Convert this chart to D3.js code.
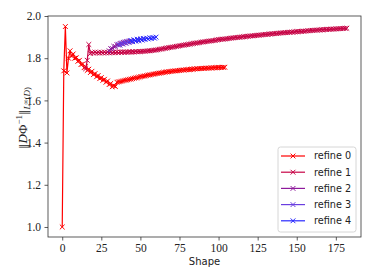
<!DOCTYPE html>
<html>
<head>
<meta charset="utf-8">
<script src="https://cdn.jsdelivr.net/npm/d3@7"></script>
<style>
  body { margin: 0; background: #fff; }
  svg { display: block; }
  .tick text { font-family: "Liberation Serif", "DejaVu Serif", serif; font-size: 11.5px; fill: #222; }
</style>
</head>
<body>
<div id="chart"></div>
<script>
// series names and colours
var names = ['refine 0', 'refine 1', 'refine 2', 'refine 3', 'refine 4'];
var colors = ['#ff0000', '#c70446', '#8e1a9c', '#6a3ee0', '#2a2aff'];

// first shape index of each series (x runs one step per value)
var starts = [0, 15, 30, 36, 44];

var refine0 = [1.000, 1.740, 1.950, 1.730, 1.800, 1.835, 1.810, 1.820, 1.800, 1.802, 1.785, 1.790, 1.770, 1.772, 1.755, 1.760, 1.742, 1.748, 1.732, 1.738, 1.722, 1.727, 1.712, 1.718, 1.703, 1.708, 1.695, 1.700, 1.686, 1.692, 1.675, 1.680, 1.665, 1.670, 1.666,
  1.686, 1.688, 1.689, 1.691, 1.693, 1.695, 1.696, 1.698, 1.700, 1.701, 1.703,
  1.705, 1.707, 1.708, 1.710, 1.712, 1.713, 1.715, 1.716, 1.718, 1.720,
  1.721, 1.722, 1.724, 1.725, 1.727, 1.728, 1.729, 1.730, 1.732, 1.733,
  1.734, 1.735, 1.736, 1.737, 1.738, 1.739, 1.740, 1.740, 1.741, 1.742,
  1.743, 1.744, 1.744, 1.745, 1.746, 1.746, 1.747, 1.748, 1.748, 1.749,
  1.750, 1.750, 1.751, 1.751, 1.752, 1.752, 1.753, 1.753, 1.753, 1.754,
  1.754, 1.755, 1.755, 1.755, 1.756, 1.756, 1.756, 1.757, 1.757];

var refine1 = [1.750, 1.790, 1.865, 1.822,
  1.828, 1.824, 1.829, 1.825, 1.828, 1.824, 1.828, 1.825, 1.829, 1.825, 1.828, 1.825, 1.829, 1.826, 1.829, 1.826,
  1.829, 1.826, 1.830, 1.827, 1.830, 1.827, 1.830, 1.828, 1.831, 1.828, 1.831, 1.829, 1.832, 1.830, 1.832, 1.831,
  1.832, 1.833, 1.833, 1.834, 1.835, 1.835, 1.836, 1.837, 1.838, 1.839,
  1.840, 1.842, 1.843, 1.844, 1.846, 1.847, 1.848, 1.850, 1.851, 1.852,
  1.853, 1.855, 1.856, 1.857, 1.859, 1.860, 1.861, 1.862, 1.864, 1.865,
  1.866, 1.867, 1.869, 1.870, 1.871, 1.872, 1.873, 1.874, 1.876, 1.877,
  1.878, 1.879, 1.880, 1.881, 1.882, 1.883, 1.884, 1.885, 1.887, 1.888,
  1.889, 1.890, 1.890, 1.891, 1.892, 1.893, 1.894, 1.895, 1.896, 1.897,
  1.898, 1.898, 1.899, 1.900, 1.901, 1.902, 1.902, 1.903, 1.904, 1.905,
  1.906, 1.906, 1.907, 1.908, 1.909, 1.909, 1.910, 1.911, 1.912, 1.913,
  1.913, 1.914, 1.915, 1.915, 1.916, 1.917, 1.917, 1.918, 1.919, 1.920,
  1.920, 1.921, 1.921, 1.922, 1.923, 1.923, 1.924, 1.924, 1.925, 1.926,
  1.926, 1.927, 1.927, 1.928, 1.928, 1.929, 1.930, 1.930, 1.931, 1.932,
  1.932, 1.933, 1.933, 1.934, 1.934, 1.935, 1.935, 1.936, 1.936, 1.937,
  1.937, 1.938, 1.938, 1.938, 1.939, 1.939, 1.940, 1.940, 1.941, 1.941, 1.942, 1.942];

var refine2 = [1.835, 1.845, 1.846, 1.856, 1.855, 1.864, 1.862, 1.870, 1.868, 1.875, 1.872, 1.879, 1.876, 1.882, 1.879];
var refine3 = [1.866, 1.862, 1.872, 1.867, 1.877, 1.871, 1.880, 1.875, 1.883, 1.878, 1.886, 1.881, 1.888, 1.884, 1.890, 1.886, 1.892];
var refine4 = [1.884, 1.879, 1.887, 1.882, 1.889, 1.885, 1.891, 1.887, 1.893, 1.889, 1.895, 1.891, 1.897, 1.893, 1.898, 1.895, 1.900];

var xTicks = [0, 25, 50, 75, 100, 125, 150, 175];
var yTicks = [1.0, 1.2, 1.4, 1.6, 1.8, 2.0];

var W = 374, H = 280;
var m = { left: 48, top: 16, right: 13, bottom: 43 };
var iw = W - m.left - m.right, ih = H - m.top - m.bottom;

var svg = d3.select('#chart').append('svg').attr('width', W).attr('height', H);

var x = d3.scaleLinear().domain([-9.1, 191.1]).range([m.left, m.left + iw]);
var y = d3.scaleLinear().domain([0.9525, 2.0]).range([m.top + ih, m.top]);

// build point lists
var all = [refine0, refine1, refine2, refine3, refine4];
var series = all.map(function (vals, i) {
  return { name: names[i], color: colors[i], pts: vals.map(function (v, j) { return [starts[i] + j, v]; }) };
});

// axes
var gx = svg.append('g').attr('transform', 'translate(0,' + (m.top + ih) + ')')
  .call(d3.axisBottom(x).tickValues(xTicks).tickSize(3.5).tickPadding(3.5).tickFormat(d3.format('d')));
var gy = svg.append('g').attr('transform', 'translate(' + m.left + ',0)')
  .call(d3.axisLeft(y).tickValues(yTicks).tickSize(3.5).tickPadding(3.5).tickFormat(d3.format('.1f')));
[gx, gy].forEach(function (g) {
  g.select('.domain').remove();
  g.selectAll('.tick line').attr('stroke', '#333').attr('stroke-width', 0.8);
});

var line = d3.line().x(function (d) { return x(d[0]); }).y(function (d) { return y(d[1]); });
var cross = function (s) { return 'M' + (-s) + ',' + (-s) + 'L' + s + ',' + s + 'M' + (-s) + ',' + s + 'L' + s + ',' + (-s); };

var plot = svg.append('g');
series.forEach(function (s) {
  var g = plot.append('g');
  g.append('path').attr('d', line(s.pts)).attr('fill', 'none')
    .attr('stroke', s.color).attr('stroke-width', 1.2);
  g.selectAll('path.mk').data(s.pts).enter().append('path').attr('class', 'mk')
    .attr('d', cross(2.4))
    .attr('transform', function (d) { return 'translate(' + x(d[0]) + ',' + y(d[1]) + ')'; })
    .attr('stroke', s.color).attr('stroke-width', 1);
});

// frame
svg.append('rect').attr('x', m.left).attr('y', m.top).attr('width', iw).attr('height', ih)
  .attr('fill', 'none').attr('stroke', '#333').attr('stroke-width', 0.8);

// axis titles
svg.append('text').attr('x', m.left + iw / 2).attr('y', 265)
  .attr('text-anchor', 'middle').style('font-family', 'DejaVu Sans').style('font-size', '10px').attr('fill', '#222')
  .text('Shape');

var yl = svg.append('text').attr('transform', 'translate(27,118) rotate(-90)')
  .attr('text-anchor', 'middle').style('font-family', 'Liberation Serif, DejaVu Serif, serif').style('font-size', '13px').attr('fill', '#222');
yl.append('tspan').style('font-family', 'DejaVu Serif').style('font-size', '11px').text('\u2016');
yl.append('tspan').style('font-style', 'italic').text('D');
yl.append('tspan').text('\u03A6');
yl.append('tspan').attr('dy', -5).style('font-size', '9px').text('\u22121');
yl.append('tspan').attr('dy', 5).style('font-family', 'DejaVu Serif').style('font-size', '11px').text('\u2016');
yl.append('tspan').attr('dy', 3).style('font-size', '9px').style('font-style', 'italic').text('L');
yl.append('tspan').attr('dy', -2).style('font-size', '7px').text('\u221E');
yl.append('tspan').attr('dy', 2).style('font-size', '9px').text('(');
yl.append('tspan').style('font-size', '9px').style('font-style', 'italic').text('D');
yl.append('tspan').style('font-size', '9px').text(')');

// legend
var lg = svg.append('g').attr('transform', 'translate(278,147)');
lg.append('rect').attr('width', 78).attr('height', 85).attr('rx', 2.5)
  .attr('fill', '#fff').attr('fill-opacity', 0.8).attr('stroke', '#ccc').attr('stroke-width', 0.8);
series.forEach(function (s, i) {
  var row = lg.append('g').attr('transform', 'translate(0,' + (9 + i * 16.2) + ')');
  row.append('line').attr('x1', 3).attr('x2', 27).attr('stroke', s.color).attr('stroke-width', 1.2);
  row.append('path').attr('d', cross(2.4)).attr('transform', 'translate(15,0)').attr('stroke', s.color).attr('stroke-width', 1);
  row.append('text').attr('x', 36).attr('dy', '0.35em').style('font-family', 'DejaVu Sans').style('font-size', '9.7px')
    .attr('fill', '#222').text(s.name);
});
</script>
</body>
</html>
